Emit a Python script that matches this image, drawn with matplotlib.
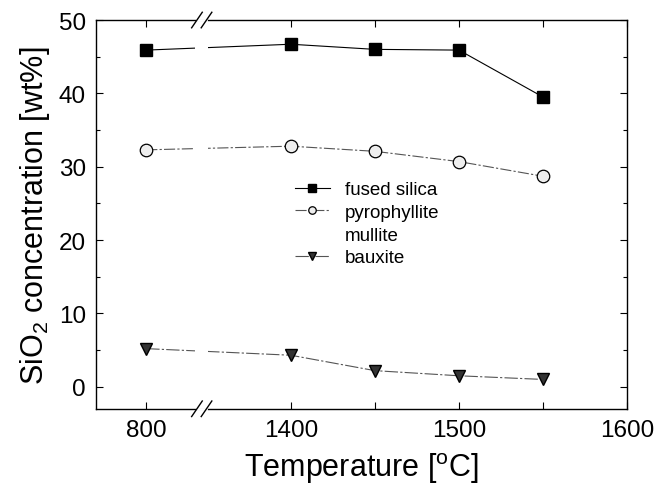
import matplotlib
matplotlib.use('Agg')
import matplotlib.pyplot as plt

plt.rcParams['font.family'] = ['Liberation Sans', 'DejaVu Sans']
plt.rcParams['mathtext.fontset'] = 'custom'
plt.rcParams['mathtext.rm'] = 'Liberation Sans'
plt.rcParams['mathtext.it'] = 'Liberation Sans'

# Data
temps = [800, 1400, 1450, 1500, 1550]
fused_silica = [45.9, 46.7, 46.0, 45.9, 39.5]
pyrophyllite = [32.3, 32.8, 32.1, 30.7, 28.7]
bauxite = [5.2, 4.3, 2.2, 1.5, 1.0]

tick_vals = [800, 1400, 1450, 1500, 1550, 1600]
tick_labels = ['800', '1400', '', '1500', '', '1600']

# broken axis: 800 sits left of the break
pos_800 = 1314
break_x = 1347


def xpos(t):
    return pos_800 if t < 1400 else t


xs = [xpos(t) for t in temps]

fig = plt.figure(figsize=(6.7, 4.89), dpi=100)
ax = fig.add_axes([0.143, 0.162, 0.793, 0.795])

ax.plot(xs, fused_silica, '-', color='black', lw=0.8, marker='s', ms=9,
        mfc='black', mec='black', label='fused silica')
ax.plot(xs, pyrophyllite, color='#555555', lw=0.8, dashes=(10, 2, 2, 2), marker='o',
        ms=9, mfc='#eeeeee', mec='black', mew=0.9, label='pyrophyllite')
ax.plot([], [], ' ', label='mullite')
ax.plot(xs, bauxite, color='#555555', lw=0.8, dashes=(12, 2, 2, 2), marker='v',
        ms=9, mfc='#333333', mec='black', label='bauxite')

# gap in the lines at the break
ax.axvspan(break_x - 4, break_x + 4, color='white', zorder=2.1, lw=0)

ax.set_xlim(1284, 1600)
ax.set_ylim(-3, 50)
ax.set_xticks([xpos(t) for t in tick_vals])
ax.set_xticklabels(tick_labels)
ax.set_yticks([0, 10, 20, 30, 40, 50])
ax.set_yticks([5, 15, 25, 35, 45], minor=True)

ax.tick_params(direction='in', top=True, right=True, labelsize=17.5, length=5, width=0.8, pad=7)
ax.tick_params(which='minor', direction='in', right=True, length=3, width=0.8)
for s in ax.spines.values():
    s.set_linewidth(1.0)

ax.set_xlabel(r'Temperature [$^{\rm o}$C]', fontsize=22, labelpad=7)
ax.set_ylabel(r'SiO$_2$ concentration [wt%]', fontsize=22, labelpad=5)

# break marks on bottom and top axes
bx = (break_x - 1284) / (1600 - 1284)
for yb in (0, 1):
    for off in (-0.009, 0.009):
        ax.plot([bx + off - 0.01, bx + off + 0.01], [yb - 0.02, yb + 0.02],
                transform=ax.transAxes, color='black', lw=1.0, clip_on=False, zorder=5)
    ax.plot([bx - 0.008, bx + 0.008], [yb, yb], transform=ax.transAxes,
            color='white', lw=2, clip_on=False, zorder=4)

ax.legend(loc='upper left', bbox_to_anchor=(0.36, 0.605), frameon=False, fontsize=13.5,
          handlelength=1.9, handletextpad=0.8, labelspacing=0.3, markerscale=0.6,
          borderaxespad=0)

fig.savefig('out.png', dpi=100)
